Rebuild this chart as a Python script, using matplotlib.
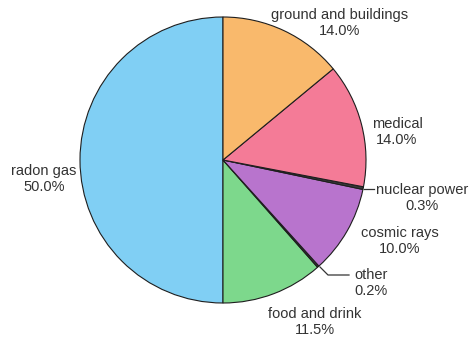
import matplotlib
matplotlib.use("Agg")
import matplotlib.pyplot as plt

plt.rcParams['font.family'] = ['Liberation Sans', 'DejaVu Sans']

# slices, counter-clockwise from the top
names = ['radon gas', 'food and drink', 'other', 'cosmic rays',
         'nuclear power', 'medical', 'ground and buildings']
shares = [50.0, 11.5, 0.2, 10.0, 0.3, 14.0, 14.0]
colors = ['#80cff4', '#7dd88c', '#3a3a3a', '#b874cd', '#3a3a3a', '#f47b97', '#f9b96c']

fig = plt.figure(figsize=(4.7, 3.37), dpi=100)
ax = fig.add_axes([0, 0, 1, 1])

ax.pie(shares, colors=colors, startangle=90, counterclock=True, radius=1.0,
       wedgeprops=dict(edgecolor='#1e1e1e', linewidth=0.8))

# pixel -> data helper (pie centre 223,160 ; radius 143 px)
def px(x, y):
    return ((x - 223) / 143.0, (160 - y) / 143.0)

ax.set_xlim(-223 / 143.0, (470 - 223) / 143.0)
ax.set_ylim((160 - 337) / 143.0, 160 / 143.0)
ax.set_aspect('equal')
ax.axis('off')

fs = 10.5
# label block positions: (x, y centre of two lines, anchor)
lab = {
    'radon gas': (44, 179, 'center'),
    'food and drink': (315, 322, 'center'),
    'other': (354, 283, 'left'),
    'cosmic rays': (400, 241, 'center'),
    'nuclear power': (376, 198, 'left'),
    'medical': (397, 132, 'center'),
    'ground and buildings': (340, 23, 'center'),
}
for n, s in zip(names, shares):
    x, y, ha = lab[n]
    ax.text(*px(x, y), '%s\n%.1f%%' % (n, s), ha=ha, va='center',
            multialignment='center', fontsize=fs, color='#333333',
            linespacing=1.2)

# leader lines for the two thin slices
xs, ys = zip(px(364, 189), px(374, 189))
ax.plot(xs, ys, color='#333333', lw=0.9)
xs, ys = zip(px(320, 267), px(328, 275), px(349, 275))
ax.plot(xs, ys, color='#333333', lw=0.9)

fig.savefig('out.png', dpi=100, facecolor='white')
